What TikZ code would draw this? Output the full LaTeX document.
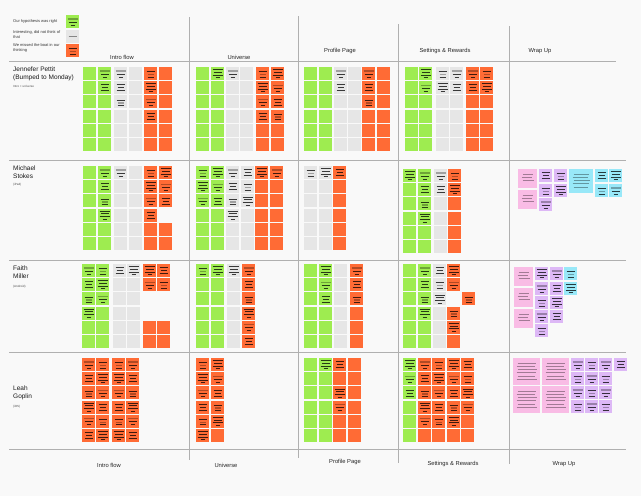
\documentclass[tikz,border=0pt]{standalone}
\usepackage{fontspec}
\setmainfont{Liberation Sans}
\usetikzlibrary{positioning}
\definecolor{paper}{HTML}{F9F9F9}
\definecolor{rule}{HTML}{B0B0B0}
\definecolor{lime}{RGB}{158,236,80}
\definecolor{fog}{HTML}{E6E6E6}
\definecolor{flame}{HTML}{FF6B35}
\definecolor{blush}{HTML}{F9BCE5}
\definecolor{lilac}{HTML}{DDB8F6}
\definecolor{sky}{HTML}{98E8F8}
\tikzset{
  note/.style={
    minimum size=13pt,
    inner sep=0pt,
    outer sep=0pt
  },
  ink/.style={
    draw=black,
    draw opacity=.75,
    line width=.8pt
  },
  faint/.style={
    draw=black,
    draw opacity=.3,
    line width=1.3pt
  },
  fine/.style={
    draw=black,
    draw opacity=.35,
    line width=.5pt
  },
  grid/.style={
    draw=rule,
    line width=.8pt
  },
  head/.style={
    font=\fontsize{5.8}{7}\selectfont,
    text=black!85
  },
  who/.style={
    font=\fontsize{6.5}{8}\selectfont,
    text=black!90,
    align=left,
    anchor=north west,
    inner sep=0pt
  },
  tiny/.style={
    font=\fontsize{3}{4}\selectfont,
    text=black!70,
    anchor=north west,
    inner sep=0pt
  },
  key/.style={
    font=\fontsize{4}{5}\selectfont,
    text=black!80,
    align=left,
    anchor=west,
    inner sep=0pt
  }
}

% text lines on a sticky
\newcommand{\scribble}[2]{%
  \begin{scope}[shift={(#1.center)}]
    \ifcase#2
      \draw[ink] (-4,-3) -- (4,-3) (-3,0) -- (3,0) (-4,3) -- (4,3);
    \or
      \draw[faint] (-5,-2.5) -- (5,-2.5);
      \draw[ink] (-4,0.5) -- (4,0.5) (-2,3.5) -- (2,3.5);
    \or
      \draw[ink] (-5,-4) -- (5,-4) (-4,-1.3) -- (4,-1.3) (-5,1.4) -- (5,1.4) (-2,4) -- (2,4);
    \or
      \draw[ink] (-4,-2) -- (4,-2);
      \draw[faint] (-3,1) -- (3,1);
      \draw[ink] (-3,3.5) -- (3,3.5);
    \fi
  \end{scope}}

% one block of stickies: #1 top edge, #2 list x/colour/first/last/with text
\newcommand{\block}[2]{%
  \foreach \x/\clr/\from/\upto/\tx in {#2}{
    \foreach \r in {\from,...,\upto}{
      \node[note,fill=\clr] (n#1-\x-\r) at ({\x+6.5},{#1+14.2*(\r-1)+6.5}) {};
      \pgfmathtruncatemacro\lastrow{\from+\tx-1}
      \pgfmathtruncatemacro\kind{mod(\x+3*\r,4)}
      \ifnum\r>\lastrow\else\scribble{n#1-\x-\r}{\kind}\fi
    }
  }}

% larger wrap-up note with fine print
\newcommand{\memo}[5]{%
  \node[note,fill=#5,minimum size=#4pt] (#1) at ({#2+#4/2},{#3+#4/2}) {};
  \pgfmathsetmacro\half{#4/2-3.5}
  \pgfmathtruncatemacro\nl{(#4-6)/3.3}
  \begin{scope}[shift={(#1.north)}]
    \foreach \k in {1,...,\nl}{
      \draw[fine] ({-\half+mod(\k,2)},{1.5+3.3*\k}) -- ({\half-mod(\k,3)},{1.5+3.3*\k});
    }
  \end{scope}}

\begin{document}
\begin{tikzpicture}[x=1pt,y=-1pt]
\fill[paper] (0,0) rectangle (641,496);

% legend
\node[note,fill=lime] (k1) at (72.5,21.5) {};
\node[note,fill=fog] (k2) at (72.5,36.5) {};
\node[note,fill=flame] (k3) at (72.5,50.5) {};
\scribble{k1}{1}
\draw[ink,draw=black!60] ([xshift=-4pt]k2.center) -- ([xshift=4pt]k2.center);
\scribble{k3}{3}
\node[key] (t1) at (13,21) {Our hypothesis was right};
\node[key] (t2) at (13,35) {Interesting, did not think of\\that};
\node[key] (t3) at (13,48) {We missed the boat in our\\thinking};

% grid
\draw[grid] (9,61) -- (616,61);
\foreach \y in {160,260,352,449}
  \draw[grid] (9,\y) -- (626,\y);
\draw[grid] (189,17) -- (189,460);
\draw[grid] (298,16) -- (298,458);
\draw[grid] (398,24) -- (398,463);
\draw[grid] (509,26) -- (509,464);

% column titles
\node[head] (h1) at (122,57) {Intro flow};
\node[head] (h2) at (239,57) {Universe};
\node[head] (h3) at (340,51) {Profile Page};
\node[head] (h4) at (445,51) {Settings \& Rewards};
\node[head] (h5) at (540,51) {Wrap Up};
\node[head] (f1) at (109,465) {Intro flow};
\node[head] (f2) at (226,465) {Universe};
\node[head] (f3) at (345,462) {Profile Page};
\node[head] (f4) at (453,464) {Settings \& Rewards};
\node[head] (f5) at (564,464) {Wrap Up};

% people
\node[who] (p1) at (13,67) {Jennefer Pettit\\(Bumped to Monday)};
\node[tiny] (s1) at (13,85) {Intro + universe};
\node[who] (p2) at (13,166) {Michael\\Stokes};
\node[tiny] (s2) at (13,183) {(iPad)};
\node[who] (p3) at (13,266) {Faith\\Miller};
\node[tiny] (s3) at (13,285) {(Android)};
\node[who] (p4) at (13,386) {Leah\\Goplin};
\node[tiny] (s4) at (13,405) {(iOS)};

% Jennefer
\block{67}{83/lime/1/6/0, 98/lime/1/6/2, 114/fog/1/6/3, 129/fog/1/6/0, 144/flame/1/6/4, 159/flame/1/6/0,
  196/lime/1/6/0, 211/lime/1/6/1, 226/fog/1/6/1, 240/fog/1/6/0, 256/flame/1/6/4, 271/flame/1/6/4,
  304/lime/1/6/0, 319/lime/1/6/0, 334/fog/1/6/2, 348/fog/1/6/0, 362/flame/1/6/3, 377/flame/1/6/0,
  405/lime/1/6/0, 419/lime/1/6/2, 436/fog/1/6/2, 450/fog/1/6/2, 466/flame/1/6/2, 480/flame/1/6/2}

% Michael
\block{166}{83/lime/1/6/0, 98/lime/1/6/4, 114/fog/1/6/1, 129/fog/1/6/0, 144/flame/1/6/4,
  159/flame/1/3/3, 159/flame/5/6/0,
  196/lime/1/6/3, 211/lime/1/6/3, 226/fog/1/6/4, 241/fog/1/6/3, 255/flame/1/6/1, 270/flame/1/6/1,
  304/fog/1/6/1, 319/fog/1/6/1, 333/flame/1/6/1}
\block{169}{403/lime/1/6/1, 418/lime/1/6/4, 434/fog/1/6/2, 448/flame/1/6/2}
\memo{w1}{518}{169}{19}{blush}
\memo{w2}{518}{190}{19}{blush}
\memo{w3}{569}{169}{24}{sky}
\foreach \x/\y/\clr in {539/169/lilac, 539/184/lilac, 539/198/lilac, 554/169/lilac, 554/184/lilac,
  595/169/sky, 595/184/sky, 609/169/sky, 609/184/sky}{
  \node[note,fill=\clr] (w\x-\y) at ({\x+6.5},{\y+6.5}) {};
  \pgfmathtruncatemacro\kind{mod(\x+\y,4)}
  \scribble{w\x-\y}{\kind}
}

% Faith
\block{264}{82/lime/1/6/4, 96/lime/1/6/3, 113/fog/1/6/1, 127/fog/1/6/1,
  143/flame/1/2/2, 143/flame/5/6/0, 157/flame/1/2/2, 157/flame/5/6/0,
  196/lime/1/6/1, 211/lime/1/6/1, 227/fog/1/6/1, 242/flame/1/6/6,
  304/lime/1/6/0, 319/lime/1/6/3, 334/fog/1/6/0, 350/flame/1/6/3,
  403/lime/1/6/0, 418/lime/1/6/4, 433/fog/1/6/3, 447/flame/1/2/2, 447/flame/4/6/2, 462/flame/3/3/1}
\memo{w4}{514}{267}{19}{blush}
\memo{w5}{514}{288}{19}{blush}
\memo{w6}{514}{309}{19}{blush}
\foreach \x/\y/\clr in {535/267/lilac, 535/282/lilac, 535/296/lilac, 535/310/lilac, 535/324/lilac,
  550/267/lilac, 550/282/lilac, 550/296/lilac, 550/310/lilac, 564/267/sky, 564/282/sky}{
  \node[note,fill=\clr] (w\x-\y) at ({\x+6.5},{\y+6.5}) {};
  \pgfmathtruncatemacro\kind{mod(\x+\y,4)}
  \scribble{w\x-\y}{\kind}
}

% Leah
\block{358}{82/flame/1/6/6, 96/flame/1/6/6, 112/flame/1/6/6, 126/flame/1/6/6,
  196/flame/1/6/6, 211/flame/1/6/5,
  304/lime/1/6/0, 319/lime/1/6/1, 333/flame/1/1/1, 333/flame/2/2/0, 333/flame/3/4/2, 333/flame/5/6/0, 348/flame/1/6/0,
  403/lime/1/6/3, 418/flame/1/6/5, 432/flame/1/6/5, 447/flame/1/6/5, 461/flame/1/6/4}
\memo{w7}{513}{358}{27}{blush}
\memo{w8}{513}{386}{27}{blush}
\memo{w9}{542}{358}{27}{blush}
\memo{w10}{542}{386}{27}{blush}
\foreach \x/\y in {571/358, 571/372, 571/386, 571/400, 585/358, 585/372, 585/386, 585/400,
  599/358, 599/372, 599/386, 599/400, 614/358}{
  \node[note,fill=lilac] (w\x-\y) at ({\x+6.5},{\y+6.5}) {};
  \pgfmathtruncatemacro\kind{mod(\x+\y,4)}
  \scribble{w\x-\y}{\kind}
}
\end{tikzpicture}
\end{document}
